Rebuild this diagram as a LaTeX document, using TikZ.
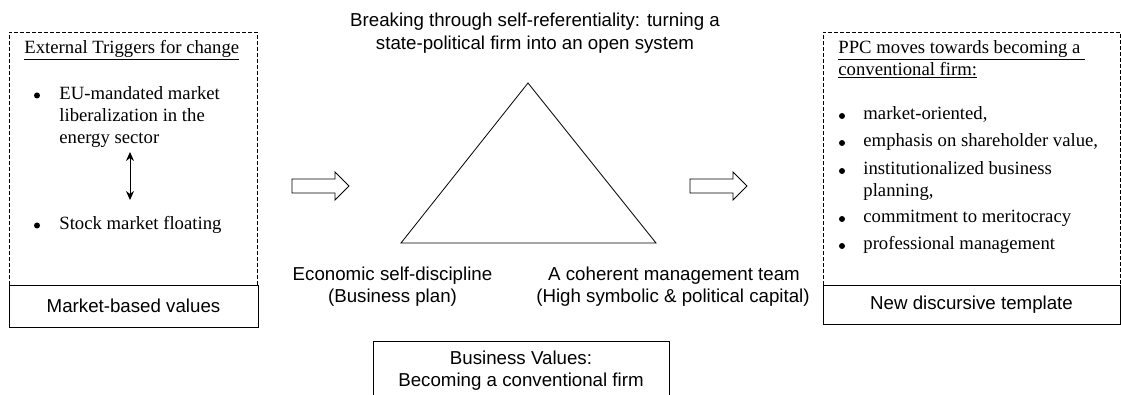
\documentclass[tikz,border=0pt]{standalone}
\usepackage{fontspec}
\setmainfont{Liberation Serif}
\setsansfont{Liberation Sans}
\usetikzlibrary{arrows.meta}

\tikzset{
    serif/.style={font=\fontsize{18.7}{22}\selectfont, inner sep=0pt},
    sans/.style={font=\sffamily\fontsize{18.7}{22}\selectfont, inner sep=0pt},
    valbox/.style={sans, draw, line width=0.8pt},
    frame/.style={line width=0.8pt, dash pattern=on 4pt off 2pt},
    dot/.style={circle, fill, inner sep=0pt, minimum size=6pt}
}

\begin{document}
\begin{tikzpicture}[x=1pt, y=-1pt, line width=0.8pt]
    \useasboundingbox (0,0) rectangle (1121,395);
    \clip (0,0) rectangle (1121,395);

    \draw[frame] (9,285) |- (257,32) -- (257,285);
    \node[serif, anchor=base west] (trig) at (24,54) {\underline{External Triggers for change}};
    \node[dot] (b1) at (37,95.5) {};
    \node[serif, anchor=base west] (eu1) at (59,100) {EU-mandated market};
    \node[serif, anchor=base west] (eu2) at (59,122) {liberalization in the};
    \node[serif, anchor=base west] (eu3) at (59,144) {energy sector};
    \node[dot] (b2) at (37,225.5) {};
    \node[serif, anchor=base west] (stock) at (59,230) {Stock market floating};
    \coordinate (dtop) at (130,152);
    \coordinate (dbot) at (130,200);
    \draw[{Stealth[length=9pt,width=8pt]}-{Stealth[length=9pt,width=8pt]}] (dtop) -- (dbot);
    \node[valbox, minimum width=249, minimum height=42] (mkt) at (133.5,306) {Market-based values};

    \foreach \ax in {292,690}
        \draw[shift={(\ax,0)}] (0,179) -- (43,179) -- (43,172) -- (57,186) -- (43,200) -- (43,193) -- (0,193) -- cycle;

    \node[sans, anchor=base] (title1) at (535,27) {Breaking through self-referentiality: turning a};
    \node[sans, anchor=base] (title2) at (535,50) {state-political firm into an open system};
    \coordinate (apex) at (528,83);
    \coordinate (baseL) at (401,243);
    \coordinate (baseR) at (656,243);
    \draw (apex) -- (baseR) -- (baseL) -- cycle;
    \node[sans, anchor=base] (econ1) at (392.5,280) {Economic self-discipline};
    \node[sans, anchor=base] (econ2) at (392.5,302) {(Business plan)};
    \node[sans, anchor=base] (team1) at (674,280) {A coherent management team};
    \node[sans, anchor=base] (team2) at (673,302) {(High symbolic \& political capital)};
    \node[valbox, align=center, minimum width=296, minimum height=60] (bizval) at (521,371)
        {Business Values:\\Becoming a conventional firm};

    \draw[frame] (823,285) |- (1120,32) -- (1120,285);
    \node[serif, anchor=base west] (ppc1) at (838,54) {\underline{PPC moves towards becoming a~}};
    \node[serif, anchor=base west] (ppc2) at (838,76) {\underline{conventional firm:}};
    \foreach \by/\txt in {120/{market-oriented,}, 147/{emphasis on shareholder value,},
        175/{institutionalized business}, 223/{commitment to meritocracy}, 250/{professional management}} {
        \node[dot] at (842,\by-4) {};
        \node[serif, anchor=base west] at (863,\by) {\txt};
    }
    \node[serif, anchor=base west] (plan) at (863,197) {planning,};
    \node[valbox, minimum width=297, minimum height=39] (newtpl) at (971.5,304.5) {New discursive template};
\end{tikzpicture}
\end{document}
